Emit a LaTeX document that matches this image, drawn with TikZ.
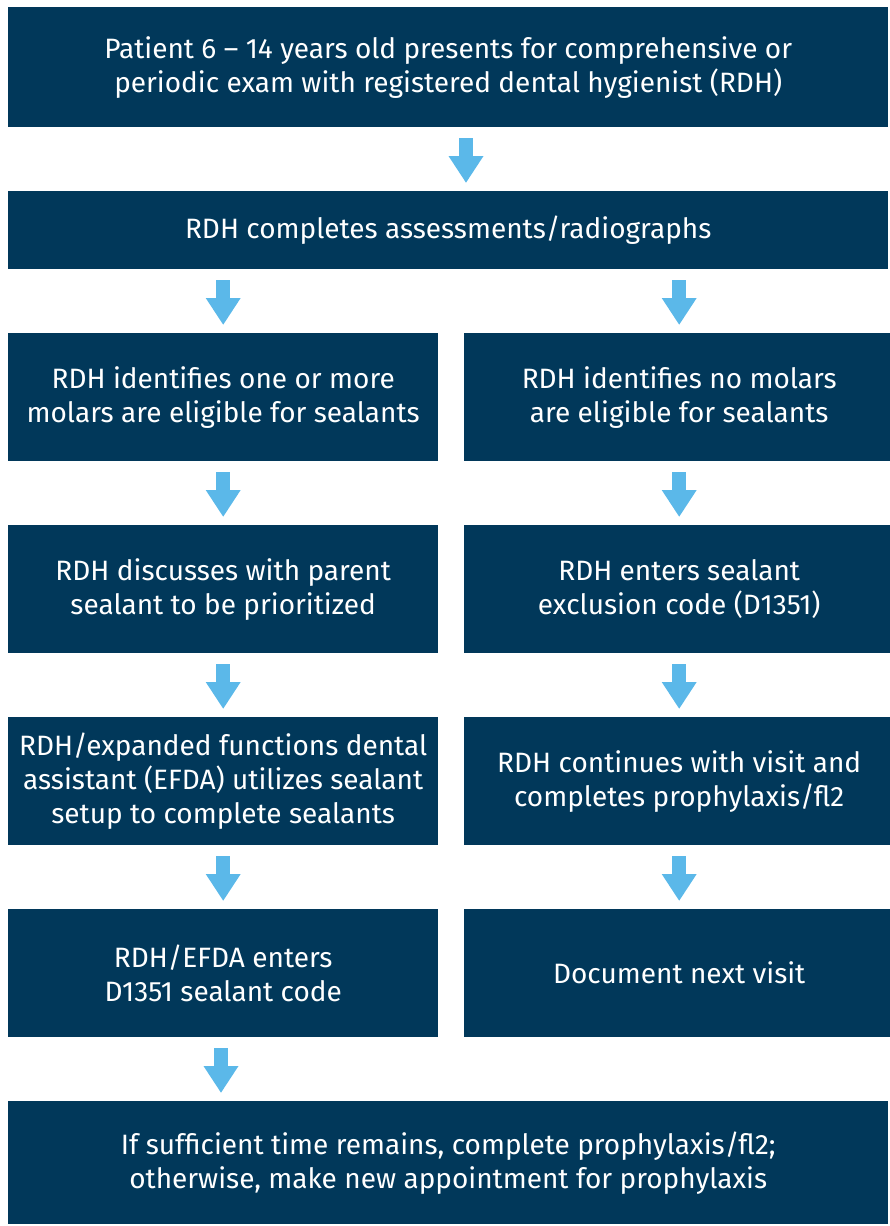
\documentclass[tikz,border=0pt]{standalone}
\usepackage{fontspec}
\setmainfont{Fira Sans}
\usetikzlibrary{arrows.meta}
\definecolor{navy}{HTML}{01385A}
\definecolor{skyblue}{HTML}{5BB8E9}
\begin{document}
\begin{tikzpicture}[
    x = 1pt, y = -1pt,
    box/.style  = {fill = navy, text = white, align = center, anchor = north west,
                   inner sep = 0pt, font = \fontsize{28}{34}\selectfont},
    wide/.style = {box, minimum width = 880pt},
    half/.style = {box, minimum width = 430pt, minimum height = 128pt},
    flow/.style = {draw = skyblue, line width = 14pt, shorten < = 11pt, shorten > = 8pt,
                   -{Triangle[width = 33pt, length = 27pt]}}
  ]
  \useasboundingbox (0, 0) rectangle (890, 1226);
  % nodes
  \node[wide, minimum height = 120pt] (exam) at (8, 7)
    {Patient 6 -- 14 years old presents for comprehensive or\\periodic exam with registered dental hygienist (RDH)};
  \node[wide, minimum height = 78pt] (assess) at (8, 191) {RDH completes assessments/radiographs};
  \node[half] (yes)    at (8, 333)   {RDH identifies one or more\\molars are eligible for sealants};
  \node[half] (no)     at (464, 333) {RDH identifies no molars\\are eligible for sealants};
  \node[half] (discuss) at (8, 525)  {RDH discusses with parent\\sealant to be prioritized};
  \node[half] (exclude) at (464, 525) {RDH enters sealant\\exclusion code (D1351)};
  \node[half] (efda)   at (8, 717)   {RDH/expanded functions dental\\assistant (EFDA) utilizes sealant\\setup to complete sealants};
  \node[half] (cont)   at (464, 717) {RDH continues with visit and\\completes prophylaxis/fl2};
  \node[half] (code)   at (8, 909)   {RDH/EFDA enters\\D1351 sealant code};
  \node[half] (next)   at (464, 909) {Document next visit};
  \node[wide, minimum height = 123pt] (final) at (8, 1101)
    {If sufficient time remains, complete prophylaxis/fl2;\\otherwise, make new appointment for prophylaxis};
  % arrows
  \draw[flow] (exam.south -| 466, 0) -- (assess.north -| 466, 0);
  \draw[flow] (assess.south -| yes.south) -- (yes.north);
  \draw[flow] (assess.south -| no.south) -- (no.north);
  \draw[flow] (yes.south) -- (discuss.north);
  \draw[flow] (no.south) -- (exclude.north);
  \draw[flow] (discuss.south) -- (efda.north);
  \draw[flow] (exclude.south) -- (cont.north);
  \draw[flow] (efda.south) -- (code.north);
  \draw[flow] (cont.south) -- (next.north);
  \draw[flow] (code.south -| 221, 0) -- (final.north -| 221, 0);
\end{tikzpicture}
\end{document}
